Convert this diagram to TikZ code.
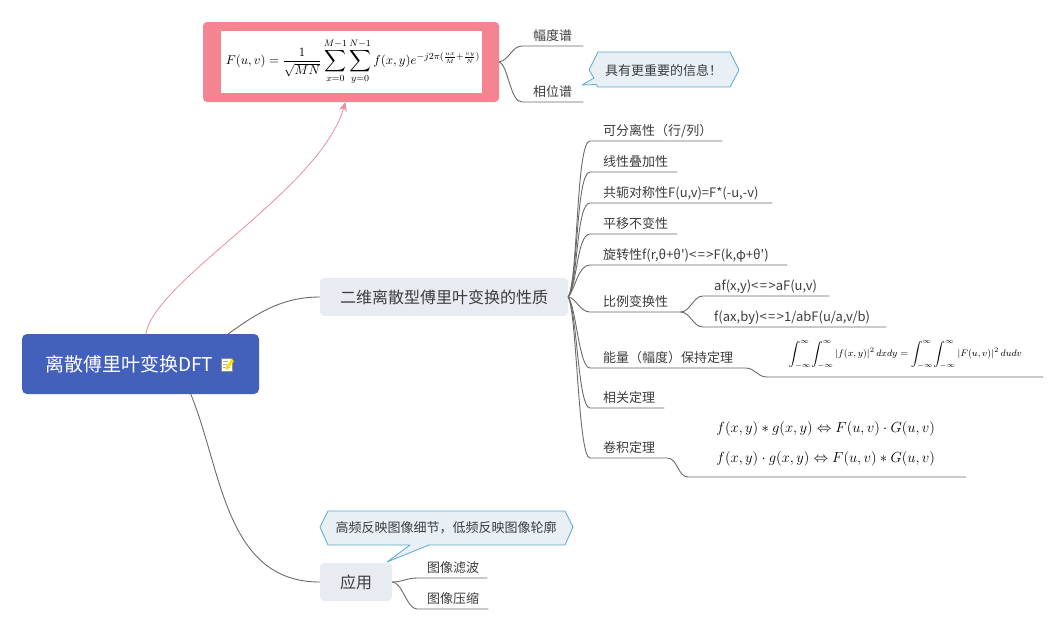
\documentclass[tikz,border=0pt]{standalone}
\usepackage[no-math]{fontspec}
\setmainfont{Noto Sans CJK SC}[Ligatures=TeXOff]
\usepackage{tikz}
\usetikzlibrary{arrows.meta}
\definecolor{rootblue}{HTML}{4360BA}
\definecolor{hubgrey}{HTML}{E9EBF3}
\definecolor{framepink}{HTML}{F4848F}
\definecolor{linkpink}{HTML}{E88E9C}
\definecolor{linegrey}{HTML}{6A6A6A}
\definecolor{inkgrey}{HTML}{3C3C3C}
\definecolor{noteblue}{HTML}{5AA9CE}
\definecolor{notefill}{HTML}{E8F0F6}
\newcommand{\eqv}{<\kern1.5pt=\kern1.5pt>}
\newcommand{\bigsum}{\mathop{\vcenter{\hbox{\scalebox{1.3}{$\displaystyle\sum$}}}}\limits}
\begin{document}
\begin{tikzpicture}[x=1pt,y=-1pt,
  link/.style={linegrey, line width=0.9pt},
  hubbox/.style={fill=hubgrey, rounded corners=4pt, inner sep=0pt, text=inkgrey, font=\fontsize{16}{18}\selectfont},
  topic/.style={anchor=south west, inner xsep=13pt, inner ysep=2.8pt, text width=#1, text height=10pt, text depth=3pt, text=inkgrey, font=\fontsize{13}{15}\selectfont},
  subtopic/.style={topic=#1, inner xsep=11pt},
  mathtopic/.style={anchor=south west, inner sep=0pt, align=center, text=black},
  callout/.style={draw=noteblue, fill=notefill, line width=0.8pt, line join=round},
  calltext/.style={text=inkgrey, inner sep=0pt, font=\fontsize{13}{15}\selectfont}]
\useasboundingbox (0,0) rectangle (1064,630);

\node[fill=rootblue, rounded corners=5pt, minimum width=237pt, minimum height=60pt, inner sep=0pt, text width=191pt, text=white, font=\fontsize{19}{21}\selectfont] (root) at (140.5,364) {离散傅里叶变换DFT};
\fill[white] (221,358) rectangle (232,371);
\draw[black!45, line width=0.6pt] (221,358) rectangle (232,371);
\draw[black!35, line width=0.5pt] (223,361) -- (228,361) (223,364) -- (227,364) (223,367) -- (230,367);
\fill[yellow!80!orange] (225,368) -- (231.5,359) -- (234,361) -- (227.5,370) -- cycle;

\node[fill=framepink, rounded corners=4pt, minimum width=296pt, minimum height=80pt, inner sep=0pt] (spectrum) at (351,62) {};
\node[fill=white, minimum width=261pt, minimum height=62pt, inner sep=0pt, font=\fontsize{11}{13}\selectfont] (dft) at (351.5,62) {\hspace{3pt}\scalebox{1.17}{$\displaystyle F(u,v)=\frac{1}{\sqrt{MN}}\bigsum_{x=0}^{M-1}\bigsum_{y=0}^{N-1}f(x,y)e^{-j2\pi(\frac{ux}{M}+\frac{vy}{N})}$}};
\node[hubbox, minimum width=248pt, minimum height=38pt] (prop) at (444,297) {二维离散型傅里叶变换的性质};
\node[hubbox, minimum width=72pt, minimum height=38pt] (app) at (356,582) {应用};

\draw[linkpink, line width=0.8pt, -{Stealth[length=9pt,width=8pt]}] (root.80) .. controls (155,280) and (320,190) .. (spectrum.-98);
\draw[link] (root.19) .. controls (255,315) and (280,297) .. (prop.west);
\draw[link] (root.-31) .. controls (222,470) and (225,582) .. (app.west);

\node[subtopic=39pt] (amp) at (522,46) {幅度谱};
\node[subtopic=39pt] (phase) at (522,102) {相位谱};
\draw[link] (spectrum.east) .. controls +(10,-2) and +(-10,0) .. (amp.south west) -- (amp.south east);
\draw[link] (spectrum.east) .. controls +(9,3) and +(-12,0) .. (phase.south west) -- (phase.south east);
\draw[callout] (589,70) -- (598,52) -- (730,52) -- (739,70) -- (730,87) -- (598,87) -- (596,84.5) -- (582,85) -- (594,78) -- cycle;
\node[calltext, anchor=west] (phasenote) at (605,71) {具有更重要的信息！};

\node[topic=106pt] (sep) at (590,141) {可分离性（行/列）};
\node[topic=61pt] (lin) at (590,172) {线性叠加性};
\node[topic=156pt] (conj) at (590,203) {共轭对称性F(u,v)=F*(-u,-v)};
\node[topic=61pt] (shift) at (590,234) {平移不变性};
\node[topic=171pt] (rot) at (590,265) {旋转性f(r,θ+θ')\eqv F(k,φ+θ')};
\node[topic=64pt] (scale) at (590,312) {比例变换性};
\node[topic=129pt] (energy) at (590,368) {能量（幅度）保持定理};
\node[topic=48pt] (corr) at (590,408) {相关定理};
\node[topic=51pt] (conv) at (590,458) {卷积定理};
\draw[link] (prop.east) .. controls +(10,-17) and +(-14,0) .. (sep.south west) -- (sep.south east);
\draw[link] (prop.east) .. controls +(10,-17) and +(-14,0) .. (lin.south west) -- (lin.south east);
\draw[link] (prop.east) .. controls +(10,-14) and +(-14,0) .. (conj.south west) -- (conj.south east);
\draw[link] (prop.east) .. controls +(9,-12) and +(-13,0) .. (shift.south west) -- (shift.south east);
\draw[link] (prop.east) .. controls +(7,-8) and +(-12,0) .. (rot.south west) -- (rot.south east);
\draw[link] (prop.east) .. controls +(8,1) and +(-10,0) .. (scale.south west) -- (scale.south east);
\draw[link] (prop.east) .. controls +(8,10) and +(-11,0) .. (energy.south west) -- (energy.south east);
\draw[link] (prop.east) .. controls +(9,15) and +(-12,0) .. (corr.south west) -- (corr.south east);
\draw[link] (prop.east) .. controls +(9,18) and +(-12,0) .. (conv.south west) -- (conv.south east);

\node[subtopic=104pt] (scalea) at (703,296) {af(x,y)\eqv aF(u,v)};
\node[subtopic=161pt] (scaleb) at (703,327) {f(ax,by)\eqv 1/abF(u/a,v/b)};
\draw[link] (scale.south east) .. controls +(10,0) and +(-10,0) .. (scalea.south west) -- (scalea.south east);
\draw[link] (scale.south east) .. controls +(10,0) and +(-10,0) .. (scaleb.south west) -- (scaleb.south east);

\node[mathtopic, minimum width=276pt, minimum height=44pt, font=\fontsize{8}{10}\selectfont] (parseval) at (767,377) {\scalebox{1.176}{$\displaystyle\int_{-\infty}^{\infty}\!\int_{-\infty}^{\infty}|f(x,y)|^2\,dxdy=\int_{-\infty}^{\infty}\!\int_{-\infty}^{\infty}|F(u,v)|^2\,dudv$}};
\draw[link] (energy.south east) .. controls +(10,0) and +(-10,0) .. (parseval.south west) -- (parseval.south east);

\node[mathtopic, minimum width=275pt, minimum height=65pt, font=\fontsize{12}{30}\selectfont] (convlaw) at (688,477) {\scalebox{1.22}{$f(x,y)*g(x,y)\Leftrightarrow F(u,v)\cdot G(u,v)$}\\\scalebox{1.22}{$f(x,y)\cdot g(x,y)\Leftrightarrow F(u,v)*G(u,v)$}};
\draw[link] (conv.south east) .. controls +(10,0) and +(-10,0) .. (convlaw.south west) -- ++(278,0);

\node[subtopic=50pt, inner xsep=10pt] (filter) at (417,578) {图像滤波};
\node[subtopic=51pt, inner xsep=10pt] (compress) at (417,609) {图像压缩};
\draw[link] (app.east) .. controls +(10,0) and +(-10,0) .. (filter.south west) -- (filter.south east);
\draw[link] (app.east) .. controls +(10,0) and +(-10,0) .. (compress.south west) -- (compress.south east);
\draw[callout] (320,527) -- (328,511) -- (565,511) -- (573,527) -- (565,545) -- (429,545) -- (387,562) -- (410,545) -- (328,545) -- cycle;
\node[calltext] (appnote) at (446,528) {高频反映图像细节，低频反映图像轮廓};
\end{tikzpicture}
\end{document}
